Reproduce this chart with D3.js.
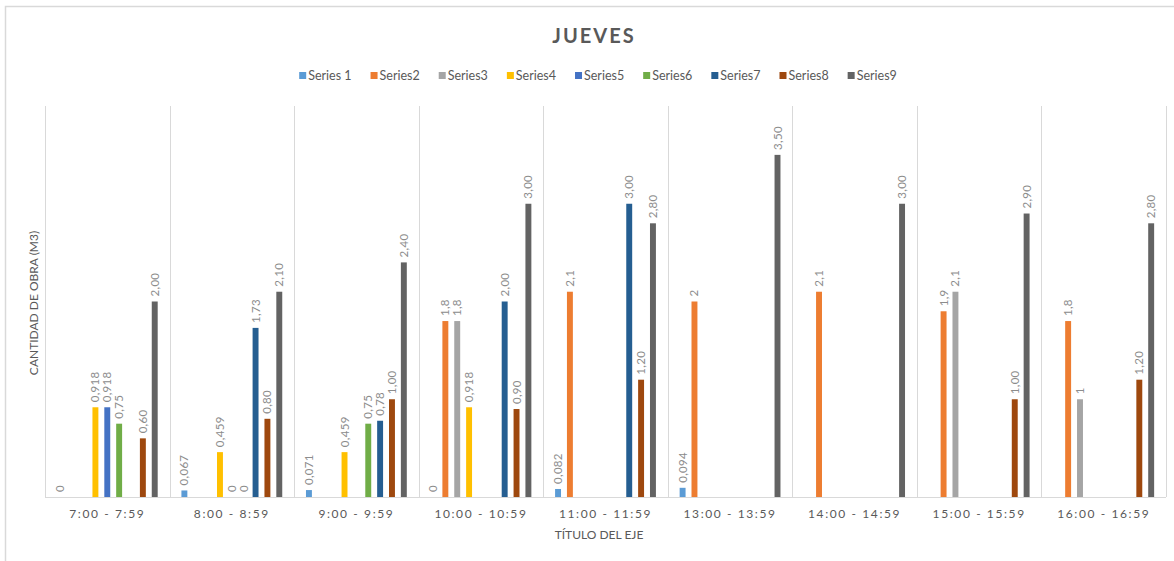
<!DOCTYPE html>
<html>
<head>
<meta charset="utf-8">
<script src="https://cdn.jsdelivr.net/npm/d3@7"></script>
<style>
  body { margin: 0; background: #fff; }
  text { font-family: Lato, "Open Sans", sans-serif; }
</style>
</head>
<body>
<div id="chart"></div>
<script>
const categories = ["7:00 - 7:59", "8:00 - 8:59", "9:00 - 9:59", "10:00 - 10:59", "11:00 - 11:59",
    "13:00 - 13:59", "14:00 - 14:59", "15:00 - 15:59", "16:00 - 16:59"]

const seriesNames = ["Series 1", "Series2", "Series3", "Series4", "Series5", "Series6", "Series7", "Series8", "Series9"]
const seriesColors = ["#5B9BD5", "#ED7D31", "#A5A5A5", "#FFC000", "#4472C4", "#70AD47", "#255E91", "#9E480E", "#636363"]

// null = no value in that hour
const series1 = [0, 0.067, 0.071, 0, 0.082, 0.094, null, null, null]
const series2 = [null, null, null, 1.8, 2.1, 2, 2.1, 1.9, 1.8]
const series3 = [null, null, null, 1.8, null, null, null, 2.1, 1]
const series4 = [0.918, 0.459, 0.459, 0.918, null, null, null, null, null]
const series5 = [0.918, 0, null, null, null, null, null, null, null]
const series6 = [0.75, 0, 0.75, null, null, null, null, null, null]
const series7 = [null, 1.73, 0.78, 2.00, 3.00, null, null, null, null]
const series8 = [0.60, 0.80, 1.00, 0.90, 1.20, null, null, 1.00, 1.20]
const series9 = [2.00, 2.10, 2.40, 3.00, 2.80, 3.50, 3.00, 2.90, 2.80]

const allSeries = [series1, series2, series3, series4, series5, series6, series7, series8, series9]
// series 7-9 are shown with two decimals, the rest as typed
const fixedSeries = [false, false, false, false, false, false, true, true, true]

const yMax = 4

const width = 1174, height = 561
const plot = { left: 45, right: 1166, top: 106, bottom: 497 }

const svg = d3.select("#chart").append("svg")
    .attr("width", width)
    .attr("height", height)

// chart frame
svg.append("rect")
    .attr("x", 5.5).attr("y", 6.5)
    .attr("width", 1300).attr("height", 700)
    .attr("fill", "none")
    .attr("stroke", "#d9d9d9")
    .attr("stroke-width", 1.5)

const x0 = d3.scaleBand().domain(categories).range([plot.left, plot.right]).padding(0)
const x1 = d3.scaleBand().domain(seriesNames).range([0, x0.bandwidth()])
    .paddingInner(0.5).paddingOuter(1)
const y = d3.scaleLinear().domain([0, yMax]).range([plot.bottom, plot.top])

// vertical separators between categories
const edges = categories.map(c => x0(c)).concat([plot.right])
svg.append("g").selectAll("line")
    .data(edges)
    .enter().append("line")
    .attr("x1", d => Math.round(d) + 0.5).attr("x2", d => Math.round(d) + 0.5)
    .attr("y1", plot.top).attr("y2", plot.bottom)
    .attr("stroke", "#d9d9d9")

const fmtComma = s => s.replace(".", ",")
const label = (v, si) => {
    if (fixedSeries[si]) return fmtComma(v.toFixed(2))
    return fmtComma(String(v))
}

const barData = []
allSeries.forEach((vals, si) => {
    vals.forEach((v, ci) => {
        if (v === null) return
        barData.push({ cat: categories[ci], name: seriesNames[si], si: si, value: v })
    })
})

svg.append("g").selectAll("rect")
    .data(barData.filter(d => d.value > 0))
    .enter().append("rect")
    .attr("x", d => x0(d.cat) + x1(d.name))
    .attr("y", d => y(d.value))
    .attr("width", x1.bandwidth())
    .attr("height", d => y(0) - y(d.value))
    .attr("fill", d => seriesColors[d.si])

// baseline
svg.append("line")
    .attr("x1", plot.left).attr("x2", plot.right)
    .attr("y1", plot.bottom + 0.5).attr("y2", plot.bottom + 0.5)
    .attr("stroke", "#d9d9d9")

// data labels, rotated
svg.append("g").selectAll("text")
    .data(barData)
    .enter().append("text")
    .attr("transform", d => {
        const cx = x0(d.cat) + x1(d.name) + x1.bandwidth() / 2 + 4
        const cy = y(d.value) - 5
        return "translate(" + cx + "," + cy + ") rotate(-90)"
    })
    .attr("font-size", 11.5)
    .attr("letter-spacing", 0.3)
    .attr("fill", "#8c8c8c")
    .text(d => label(d.value, d.si))

// x axis labels
const xAxis = svg.append("g")
    .attr("transform", "translate(0," + plot.bottom + ")")
    .call(d3.axisBottom(x0).tickSize(0).tickPadding(12))
xAxis.select(".domain").remove()
xAxis.selectAll("text")
    .attr("font-family", "Lato, sans-serif")
    .attr("font-size", 12)
    .attr("letter-spacing", 1.6)
    .attr("fill", "#595959")

// titles
svg.append("text")
    .attr("x", 594).attr("y", 43)
    .attr("text-anchor", "middle")
    .attr("font-size", 20)
    .attr("font-weight", "bold")
    .attr("letter-spacing", 2)
    .attr("fill", "#595959")
    .text("JUEVES")

svg.append("text")
    .attr("x", 599).attr("y", 539)
    .attr("text-anchor", "middle")
    .attr("font-size", 12)
    .attr("fill", "#595959")
    .text("TÍTULO DEL EJE")

svg.append("text")
    .attr("transform", "translate(38,303) rotate(-90)")
    .attr("text-anchor", "middle")
    .attr("font-size", 12)
    .attr("fill", "#595959")
    .text("CANTIDAD DE OBRA (M3)")

// legend
const legend = svg.append("g")
const items = legend.selectAll("g")
    .data(seriesNames)
    .enter().append("g")
items.append("rect")
    .attr("width", 7).attr("height", 7)
    .attr("y", -8)
    .attr("fill", (d, i) => seriesColors[i])
items.append("text")
    .attr("x", 9)
    .attr("font-size", 12.5)
    .attr("fill", "#595959")
    .text(d => d)

let lx = 0
items.each(function () {
    d3.select(this).attr("transform", "translate(" + lx + ",0)")
    lx += 9 + d3.select(this).select("text").node().getComputedTextLength() + 19
})
lx -= 19
legend.attr("transform", "translate(" + (598 - lx / 2) + ",80)")
</script>
</body>
</html>
